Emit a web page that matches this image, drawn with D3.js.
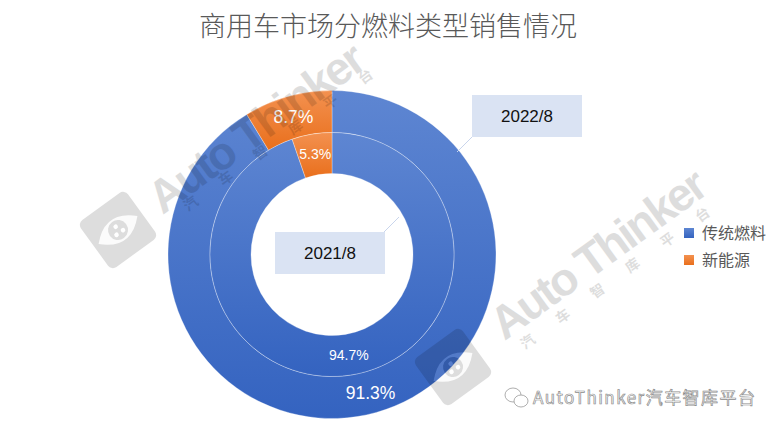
<!DOCTYPE html>
<html>
<head>
<meta charset="utf-8">
<script src="https://cdn.jsdelivr.net/npm/d3@7"></script>
<style>
  body { margin: 0; background: #fff; }
  svg { display: block; }
</style>
</head>
<body>
<div id="chart"></div>
<script>
// data
const categories = ["传统燃料", "新能源"];
const periods = ["2022/8", "2021/8"];   // outer ring, inner ring
const values2022 = [91.3, 8.7];
const values2021 = [94.7, 5.3];

const W = 779, H = 429;
const cx = 332, cy = 254.5;
const rOuter = 164, rMid = 122, rInner = 81;

const svg = d3.select("#chart").append("svg")
    .attr("width", W).attr("height", H)
    .style("font-family", "'Liberation Sans', Arial, sans-serif");

// per-slice vertical gradients (lighter on top)
const defs = svg.append("defs");
const grads = [["#5e86d2", "#3463c0"], ["#f39150", "#e96f1c"]];
categories.forEach((c, i) => {
    const g = defs.append("linearGradient").attr("id", "grad" + i)
        .attr("x1", 0).attr("y1", 0).attr("x2", 0).attr("y2", 1);
    g.append("stop").attr("offset", "0%").attr("stop-color", grads[i][0]);
    g.append("stop").attr("offset", "100%").attr("stop-color", grads[i][1]);
});

// title
svg.append("text")
    .attr("x", 388).attr("y", 36)
    .attr("text-anchor", "middle")
    .style("font-family", "'Noto Sans CJK SC', sans-serif")
    .style("font-size", "27px")
    .style("font-weight", 300)
    .attr("fill", "#595959")
    .text("商用车市场分燃料类型销售情况");

const pie = d3.pie().sort(null).value(d => d);
const rings = [
    {values: values2022, r0: rMid, r1: rOuter, big: true},
    {values: values2021, r0: rInner, r1: rMid, big: false}
];

const g = svg.append("g").attr("transform", `translate(${cx},${cy})`);

rings.forEach(ring => {
    const arc = d3.arc().innerRadius(ring.r0).outerRadius(ring.r1);
    const arcs = pie(ring.values);
    g.selectAll(null).data(arcs).enter().append("path")
        .attr("d", arc)
        .attr("fill", (d, i) => `url(#grad${i})`)
        .attr("stroke", "rgba(255,255,255,0.5)")
        .attr("stroke-width", 0.6);
    g.selectAll(null).data(arcs).enter().append("text")
        .attr("transform", d => `translate(${arc.centroid(d)})`)
        .attr("text-anchor", "middle")
        .attr("dy", "0.36em")
        .attr("fill", "#fff")
        .style("font-size", ring.big ? "17.5px" : "14px")
        .text(d => d.data.toFixed(1) + "%");
});

// callout boxes
const boxes = [
    {label: periods[0], x: 472, y: 95, w: 110, h: 42, lx1: 472, ly1: 137, lx2: 457, ly2: 152},
    {label: periods[1], x: 275, y: 232, w: 110, h: 42, lx1: 384, ly1: 232, lx2: 399, ly2: 217}
];
boxes.forEach(b => {
    svg.append("line")
        .attr("x1", b.lx1).attr("y1", b.ly1).attr("x2", b.lx2).attr("y2", b.ly2)
        .attr("stroke", "#c9d5ec").attr("stroke-width", 1);
    svg.append("rect")
        .attr("x", b.x).attr("y", b.y).attr("width", b.w).attr("height", b.h)
        .attr("fill", "#dae3f3");
    svg.append("text")
        .attr("x", b.x + b.w / 2).attr("y", b.y + b.h / 2)
        .attr("dy", "0.36em")
        .attr("text-anchor", "middle")
        .attr("fill", "#111")
        .style("font-size", "17px")
        .text(b.label);
});

// legend
const legend = svg.append("g").attr("transform", "translate(684,228)");
categories.forEach((c, i) => {
    const row = legend.append("g").attr("transform", `translate(0,${i * 27})`);
    row.append("rect").attr("width", 10).attr("height", 10).attr("fill", `url(#grad${i})`);
    row.append("text")
        .attr("x", 18).attr("y", 5).attr("dy", "0.36em")
        .style("font-family", "'Noto Sans CJK SC', sans-serif")
        .style("font-size", "16px")
        .attr("fill", "#595959")
        .text(c);
});

// watermarks
function logo(x, y) {
    const l = svg.append("g").attr("transform", `translate(${x},${y}) rotate(-36)`)
        .attr("opacity", 0.13);
    l.append("rect").attr("x", -29).attr("y", -29).attr("width", 58).attr("height", 58)
        .attr("rx", 6).attr("fill", "#000");
    l.append("path").attr("d", "M-24,0 Q0,-24 24,0 Q0,24 -24,0 Z").attr("fill", "#fff")
        .attr("opacity", 0.9);
    l.append("circle").attr("r", 10).attr("fill", "#000");
    [[-4, 3], [4, 3], [0, -4]].forEach(p =>
        l.append("circle").attr("cx", p[0]).attr("cy", p[1]).attr("r", 2.3).attr("fill", "#fff"));
}
function mark(x, y, sx, sy) {
    svg.append("text")
        .attr("transform", `translate(${x},${y}) rotate(-36)`)
        .attr("text-anchor", "middle").attr("dy", "0.36em")
        .attr("textLength", 255)
        .style("font-size", "46px").style("font-weight", "bold")
        .attr("fill", "#000").attr("opacity", 0.13)
        .text("Auto Thinker");
    svg.append("text")
        .attr("transform", `translate(${sx},${sy}) rotate(-36)`)
        .attr("text-anchor", "middle").attr("dy", "0.36em")
        .attr("textLength", 230)
        .style("font-family", "'Noto Sans CJK SC', sans-serif")
        .style("font-size", "14px").style("font-weight", "bold")
        .attr("fill", "#000").attr("opacity", 0.13)
        .text("汽车智库平台");
}
logo(118, 230);
mark(256, 127, 278, 140);
logo(453, 367);
mark(598, 253, 615, 278);

// bottom signature
const sig = svg.append("g").attr("transform", "translate(505,397)");
sig.append("ellipse").attr("cx", 8).attr("cy", -2).attr("rx", 8).attr("ry", 7)
    .attr("fill", "none").attr("stroke", "#999").attr("stroke-width", 0.8);
sig.append("ellipse").attr("cx", 16).attr("cy", 4).attr("rx", 7).attr("ry", 6)
    .attr("fill", "#fff").attr("stroke", "#999").attr("stroke-width", 0.8);
sig.append("text")
    .attr("x", 28).attr("y", 7)
    .attr("textLength", 222)
    .style("font-family", "'Noto Sans CJK SC', sans-serif")
    .style("font-size", "17px")
    .attr("fill", "#fff").attr("stroke", "#8c8c8c").attr("stroke-width", 0.7)
    .text("AutoThinker汽车智库平台");
</script>
</body>
</html>
